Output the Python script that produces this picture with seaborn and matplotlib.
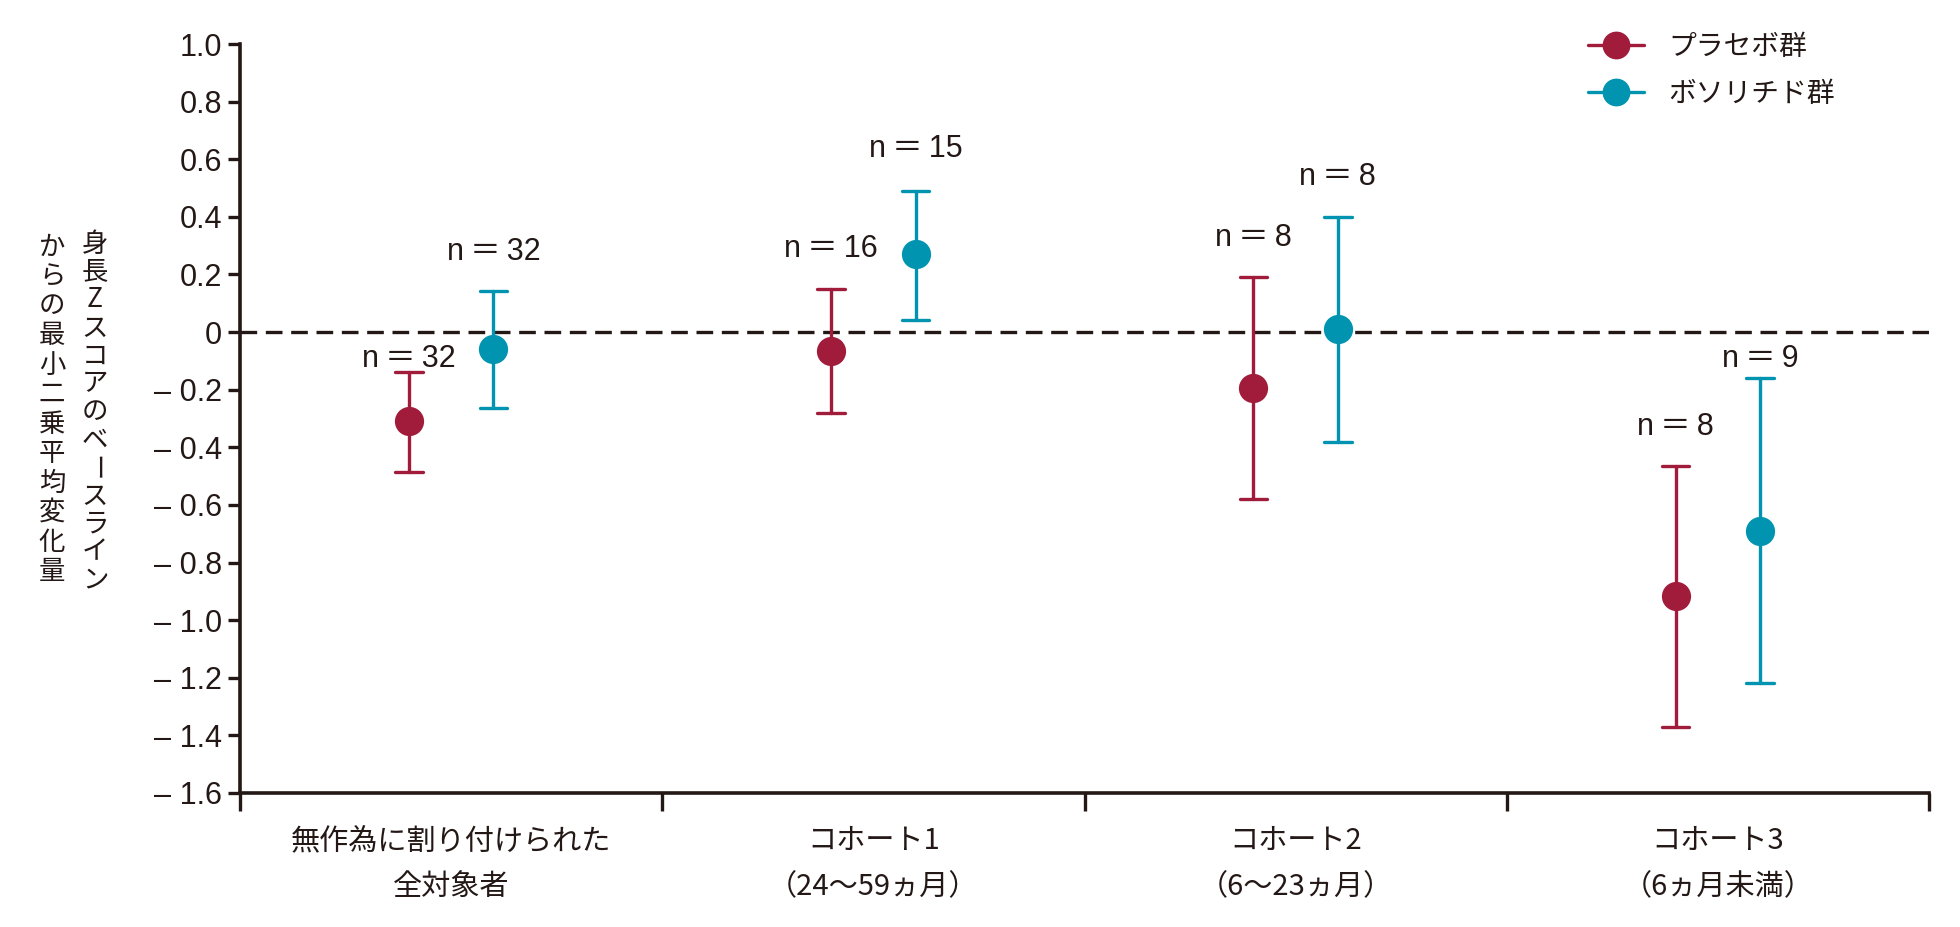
import pandas as pd
import seaborn as sns
from matplotlib import pyplot as plt
from matplotlib.lines import Line2D

# values: LS mean change of height Z score with error bar ends
groups = ['無作為に割り付けられた\n全対象者', 'コホート1\n（24〜59ヵ月）',
          'コホート2\n（6〜23ヵ月）', 'コホート3\n（6ヵ月未満）']
arms = ['プラセボ群', 'ボソリチド群']

placebo_mean = [-0.31, -0.065, -0.195, -0.915]
placebo_low = [-0.485, -0.28, -0.58, -1.37]
placebo_high = [-0.14, 0.148, 0.19, -0.465]
placebo_n = [32, 16, 8, 8]

voso_mean = [-0.06, 0.27, 0.01, -0.69]
voso_low = [-0.265, 0.043, -0.383, -1.217]
voso_high = [0.143, 0.49, 0.40, -0.16]
voso_n = [32, 15, 8, 9]

yticks = [1.0, 0.8, 0.6, 0.4, 0.2, 0, -0.2, -0.4, -0.6, -0.8, -1.0, -1.2, -1.4, -1.6]
ylabel_right = '身長Zスコアのベースライン'
ylabel_left = 'からの最小二乗平均変化量'

colors = {'プラセボ群': '#A01C3A', 'ボソリチド群': '#0094B0'}
ink = '#231815'
jp = ['Noto Sans CJK JP', 'DejaVu Sans']
num = ['Liberation Sans', 'Noto Sans CJK JP', 'DejaVu Sans']

# long table: mean plus both ends per group, so median = mean and min/max = bar ends
rows = []
for arm, m, lo, hi in [(arms[0], placebo_mean, placebo_low, placebo_high),
                       (arms[1], voso_mean, voso_low, voso_high)]:
    for g, a, b, c in zip(groups, m, lo, hi):
        for v in (b, a, c):
            rows.append({'group': g, 'arm': arm, 'value': v})
df = pd.DataFrame(rows)

sns.set_theme(style='white')
plt.rcParams['font.family'] = num
plt.rcParams['text.color'] = ink
plt.rcParams['axes.edgecolor'] = ink
plt.rcParams['xtick.color'] = ink
plt.rcParams['ytick.color'] = ink

fig = plt.figure(figsize=(19.6, 9.27), dpi=100)
ax = fig.add_axes([240 / 1960, 1 - 793 / 927, (1929 - 240) / 1960, (793 - 44) / 927])

ax.axhline(0, color=ink, lw=2.4, ls=(0, (5, 2.6)), zorder=1)

sns.pointplot(data=df, x='group', y='value', hue='arm', order=groups, hue_order=arms,
              estimator='median', errorbar=lambda v: (v.min(), v.max()),
              dodge=0.2, linestyle='none', markers='o', markersize=19,
              capsize=0.065, err_kws={'linewidth': 2.4}, palette=colors,
              legend=False, ax=ax)

# n labels above each error bar
offsets = [-0.1, 0.1]
label_gap = {0: [10, 29, 28, 28], 1: [28, 30, 29, 14]}
for j, (highs, ns) in enumerate([(placebo_high, placebo_n), (voso_high, voso_n)]):
    for i, (h, n) in enumerate(zip(highs, ns)):
        ax.annotate(f'n\u2009＝\u2009{n}', xy=(i + offsets[j], h), xytext=(0, label_gap[j][i]),
                    textcoords='offset points', ha='center', va='center',
                    fontsize=22, family=num)

ax.set_xlim(-0.5, 3.5)
ax.set_ylim(-1.6, 1.0)
ax.set_yticks(yticks)
ax.set_yticklabels(['0' if t == 0 else f'{t:.1f}'.replace('-', '– ') for t in yticks],
                   fontsize=22)
ax.set_xticks([-0.5, 0.5, 1.5, 2.5, 3.5])
ax.set_xticklabels([])
ax.set_xticks(range(len(groups)), minor=True)
ax.set_xticklabels(groups, minor=True, fontsize=21, linespacing=1.7, family=jp)
ax.tick_params(axis='x', which='major', direction='out', length=13, width=2.4, bottom=True)
ax.tick_params(axis='x', which='minor', length=0, pad=24)
ax.tick_params(axis='y', direction='out', length=9, width=2.4, left=True, pad=4)
ax.set_xlabel('')
ax.set_ylabel('')
for side in ['top', 'right']:
    ax.spines[side].set_visible(False)
for side in ['left', 'bottom']:
    ax.spines[side].set_linewidth(2.6)
    ax.spines[side].set_color(ink)

# vertical (tategaki) y label, right column first
for text, xc, top, pitch in [(ylabel_right, 95, 244, 28.0), (ylabel_left, 52, 247, 29.5)]:
    for k, ch in enumerate(text):
        fig.text(xc / 1960, 1 - (top + k * pitch) / 927, ch, ha='center', va='center',
                 fontsize=19, rotation=-90 if ch == 'ー' else 0, family=jp)

handles = [Line2D([], [], color=colors[a], marker='o', markersize=19, lw=2.4) for a in arms]
ax.legend(handles, arms, loc='upper left', bbox_to_anchor=(1588 / 1960, 1 - 32 / 927),
          bbox_transform=fig.transFigure, frameon=False, handlelength=2.0,
          handletextpad=0.9, labelspacing=0.6, borderpad=0, borderaxespad=0,
          prop={'family': jp, 'size': 20})

fig.savefig('out.png', dpi=100)
